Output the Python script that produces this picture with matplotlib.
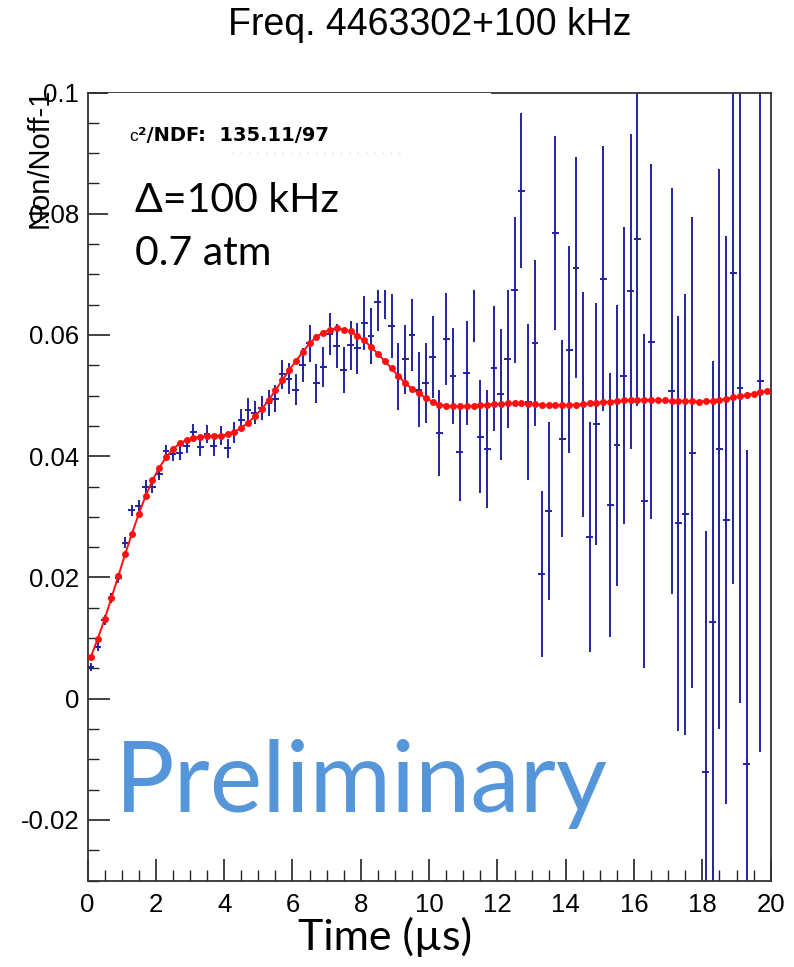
import numpy as np
import matplotlib
matplotlib.use("Agg")
import matplotlib.pyplot as plt
from matplotlib.patches import Rectangle
from matplotlib.lines import Line2D
from matplotlib.ticker import MultipleLocator, FuncFormatter

plt.rcParams['axes.unicode_minus'] = False

# Bin centres (µs), 0.2 µs wide bins
time_us = np.round(np.arange(0.1, 20.0, 0.2), 1)

# Measured Non/Noff - 1 per bin (NaN = not drawn)
ratio = np.array([
    0.0052, 0.0085, 0.0130, 0.0166, 0.0199, 0.0257, 0.0311, 0.0318, 0.0350, 0.0350,
    0.0370, 0.0408, 0.0403, 0.0405, 0.0417, 0.0440, 0.0415, 0.0436, 0.0416, 0.0434,
    0.0413, 0.0439, 0.0460, 0.0477, 0.0472, 0.0480, 0.0488, 0.0495, 0.0535, 0.0528,
    0.0510, 0.0550, 0.0586, 0.0520, 0.0547, 0.0602, 0.0582, 0.0542, 0.0583, 0.0578,
    0.0620, 0.0598, 0.0655, 0.0677, 0.0615, 0.0531, 0.0560, 0.0600, 0.0510, 0.0521,
    0.0564, 0.0438, 0.0594, 0.0532, 0.0407, 0.0537, 0.0679, 0.0432, 0.0412, 0.0545,
    0.0502, 0.0561, 0.0674, 0.0838, 0.0489, 0.0587, 0.0205, 0.0309, 0.0769, 0.0429,
    0.0576, 0.0711, 0.0485, 0.0267, 0.0453, 0.0693, 0.0320, 0.0418, 0.0533, 0.0672,
    0.0759, 0.0326, 0.0589, np.nan, np.nan, 0.0508, 0.0289, 0.0304, 0.0406, np.nan,
    -0.0121, 0.0127, 0.0412, 0.0295, 0.0703, 0.0512, -0.0108, np.nan, 0.0524, np.nan,
])

# Statistical error per bin
ratio_err = np.array([
    0.0007, 0.0007, 0.0008, 0.0008, 0.0008, 0.0009, 0.0009, 0.0009, 0.0010, 0.0010,
    0.0010, 0.0011, 0.0011, 0.0012, 0.0012, 0.0013, 0.0014, 0.0015, 0.0015, 0.0016,
    0.0016, 0.0017, 0.0018, 0.0019, 0.0019, 0.0020, 0.0021, 0.0022, 0.0024, 0.0025,
    0.0026, 0.0028, 0.0030, 0.0032, 0.0033, 0.0035, 0.0036, 0.0038, 0.0040, 0.0042,
    0.0044, 0.0046, 0.0048, 0.0050, 0.0053, 0.0055, 0.0057, 0.0060, 0.0062, 0.0066,
    0.0068, 0.0071, 0.0076, 0.0079, 0.0081, 0.0086, 0.0090, 0.0093, 0.0098, 0.0103,
    0.0108, 0.0114, 0.0121, 0.0128, 0.0129, 0.0137, 0.0137, 0.0147, 0.0160, 0.0162,
    0.0171, 0.0182, 0.0186, 0.0190, 0.0200, 0.0218, 0.0218, 0.0232, 0.0245, 0.0260,
    0.0277, 0.0275, 0.0293, np.nan, np.nan, 0.0335, 0.0342, 0.0364, 0.0388, np.nan,
    0.0398, 0.0430, 0.0462, 0.0469, 0.0514, 0.0519, 0.0518, np.nan, 0.0612, np.nan,
])

# Fit function evaluated at the bin centres
fit_vals = np.array([
    0.0069, 0.0099, 0.0131, 0.0166, 0.0202, 0.0238, 0.0272, 0.0305, 0.0334, 0.0360,
    0.0381, 0.0398, 0.0412, 0.0421, 0.0427, 0.0430, 0.0432, 0.0433, 0.0434, 0.0434,
    0.0436, 0.0440, 0.0447, 0.0455, 0.0466, 0.0478, 0.0492, 0.0509, 0.0525, 0.0542,
    0.0557, 0.0572, 0.0586, 0.0597, 0.0604, 0.0609, 0.0611, 0.0609, 0.0606, 0.0598,
    0.0591, 0.0580, 0.0569, 0.0557, 0.0545, 0.0532, 0.0521, 0.0511, 0.0504, 0.0496,
    0.0490, 0.0485, 0.0483, 0.0482, 0.0482, 0.0482, 0.0483, 0.0484, 0.0485, 0.0486,
    0.0486, 0.0487, 0.0487, 0.0487, 0.0486, 0.0486, 0.0485, 0.0484, 0.0484, 0.0484,
    0.0484, 0.0485, 0.0486, 0.0487, 0.0488, 0.0489, 0.0490, 0.0491, 0.0492, 0.0492,
    0.0493, 0.0493, 0.0493, 0.0492, 0.0492, 0.0491, 0.0491, 0.0491, 0.0491, 0.0490,
    0.0491, 0.0491, 0.0493, 0.0494, 0.0497, 0.0499, 0.0501, 0.0503, 0.0506, 0.0507,
])

bin_half_width = 0.1

title_text = "Freq. 4463302+100 kHz"
chi2_text = "\u00b2/NDF:  135.11/97"
detuning_text = "\u0394=100 kHz"
pressure_text = "0.7 atm"
watermark = "Preliminary"
xlabel_text = "Time (\u00b5s)"
ylabel_text = "Non/Noff-1"

W, H = 794, 967
fig = plt.figure(figsize=(W / 100, H / 100), dpi=100)


def fx(px):
    return px / W


def fy(py):
    return 1 - py / H


x0, x1, ytop, ybot = 87.5, 770.7, 92.5, 880.5
ax = fig.add_axes([fx(x0), fy(ybot), fx(x1) - fx(x0), fy(ytop) - fy(ybot)])

ok = ~np.isnan(ratio)
ax.errorbar(time_us[ok], ratio[ok], yerr=ratio_err[ok], xerr=bin_half_width,
            fmt='none', ecolor='#2323a0', elinewidth=1.4, capsize=0, zorder=2)

ax.plot(time_us, fit_vals, color='#ff1010', lw=1.4, marker='o', ms=4.0,
        mec='#ff1010', mfc='#ff1010', zorder=3)

# blank panel behind the fit-statistics text
ax.add_patch(Rectangle((0.6, 0.0674), 11.2, 0.05, facecolor='white',
                       edgecolor='none', zorder=4))

ax.set_xlim(0, 20)
ax.set_ylim(-0.03, 0.1)
ax.xaxis.set_major_locator(MultipleLocator(2))
ax.xaxis.set_minor_locator(MultipleLocator(0.5))
ax.yaxis.set_major_locator(MultipleLocator(0.02))
ax.yaxis.set_minor_locator(MultipleLocator(0.005))
ax.yaxis.set_major_formatter(FuncFormatter(lambda v, p: "%g" % round(v, 4)))
ax.xaxis.set_major_formatter(FuncFormatter(lambda v, p: "%g" % round(v, 4)))

ax.tick_params(which='both', direction='in', top=False, right=False,
               colors='#222222', labelcolor='black')
ax.tick_params(which='major', length=16, width=1.2, labelsize=18.5, pad=6)
ax.tick_params(which='minor', length=8, width=1.0)
for lab in ax.get_xticklabels() + ax.get_yticklabels():
    lab.set_fontfamily('Liberation Sans')
ax.tick_params(axis='x', which='major', pad=9)
for s in ax.spines.values():
    s.set_linewidth(1.3)
    s.set_color('#333333')

# texts
fig.text(fx(430), fy(25), title_text, ha='center', va='center',
         fontsize=27, family='Liberation Sans')

fig.text(fx(129), fy(141), "c", ha='left', va='baseline', fontsize=12.5,
         family='Liberation Sans')
fig.text(fx(138), fy(141), chi2_text, ha='left', va='baseline', fontsize=14,
         family='DejaVu Sans', weight='bold')
fig.add_artist(Line2D([fx(232), fx(400)], [fy(153), fy(153)], color='#d4d4d4',
                      lw=1, ls=(0, (1, 5))))

fig.text(fx(135), fy(212), detuning_text, ha='left', va='baseline',
         fontsize=29.5, family='Lato')
fig.text(fx(135), fy(265), pressure_text, ha='left', va='baseline',
         fontsize=29.5, family='Lato')

fig.text(fx(115), fy(812), watermark, ha='left', va='baseline',
         fontsize=71.5, family='Lato', color='#5595da', zorder=5)

fig.text(fx(385), fy(950), xlabel_text, ha='center', va='baseline',
         fontsize=31, family='Lato')
fig.text(fx(40), fy(88), ylabel_text, ha='center', va='top', rotation=90,
         fontsize=21, family='Liberation Sans')

fig.savefig("out.png", dpi=100)
